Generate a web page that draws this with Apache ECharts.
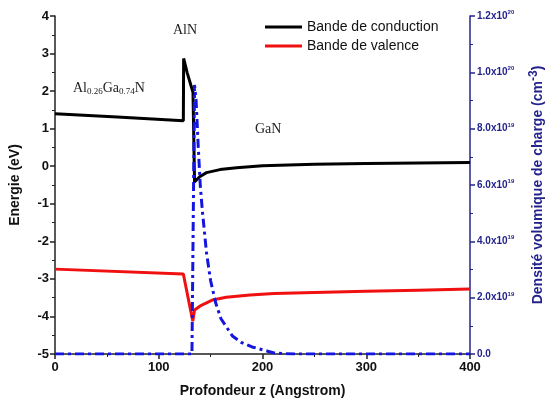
<!DOCTYPE html>
<html lang="fr">
<head>
    <meta charset="UTF-8">
    <title>Bandes d'énergie AlGaN/AlN/GaN</title>
    <style>
      html, body { margin: 0; padding: 0; background: #fff; }
    </style>
</head>
<body>
<div style="width: 550px;height: 412px;" id="bandChart"></div>
<script src="https://cdnjs.cloudflare.com/ajax/libs/echarts/6.0.0/echarts.min.js"></script>
<script type="text/javascript">
  // profondeur z (Angstrom), energie (eV)
  const conductionBand = [
    [0, 1.40], [60, 1.31], [123.7, 1.21], [124, 2.87], [127.5, 2.48],
    [133, 1.97], [134.5, -0.42], [139.4, -0.28], [146, -0.17], [159, -0.09],
    [175, -0.04], [200, 0.01], [250, 0.05], [300, 0.07], [350, 0.085], [400, 0.10]];

  const valenceBand = [
    [0, -2.74], [123.7, -2.87], [132.8, -4.13], [134.5, -3.83], [140, -3.72],
    [152, -3.56], [165, -3.49], [188, -3.43], [211, -3.39], [250, -3.36],
    [300, -3.33], [350, -3.30], [400, -3.27]];

  // densite volumique de charge (cm-3)
  const chargeDensity = [
    [0, 0], [132, 0], [133.3, 5.0e19], [134.5, 9.55e19], [136, 9.0e19],
    [138, 7.4e19], [140, 6.0e19], [142, 5.1e19], [146, 3.6e19], [150, 2.6e19],
    [155, 1.8e19], [160, 1.25e19], [171, 6.4e18], [180, 4.0e18], [190, 2.5e18],
    [197, 1.8e18], [205, 1.0e18], [211, 0.4e18], [222, 0.1e18], [232, 0], [400, 0]];

  const densityTicks = [
    ['0.0', ''], ['2.0x10', '19'], ['4.0x10', '19'], ['6.0x10', '19'],
    ['8.0x10', '19'], ['1.0x10', '20'], ['1.2x10', '20']];

  const navy = '#23238c';
  const sans = 'Liberation Sans, Arial, sans-serif';
  const serif = 'Liberation Serif, Times New Roman, serif';

  const option = {
    animation: false,
    backgroundColor: '#fff',
    grid: {left: 55, right: 80, top: 16, bottom: 58, outerBoundsMode: 'none', containLabel: false},
    legend: {
      data: ['Bande de conduction', 'Bande de valence'],
      orient: 'vertical',
      left: 260,
      top: 15,
      icon: 'rect',
      itemWidth: 37,
      itemHeight: 3,
      itemGap: 5,
      textStyle: {fontFamily: sans, fontSize: 14, color: '#111'},
    },
    xAxis: {
      type: 'value',
      min: 0, max: 400, interval: 100,
      name: 'Profondeur z (Angstrom)',
      nameLocation: 'middle',
      nameGap: 30,
      nameTextStyle: {fontFamily: sans, fontSize: 14, fontWeight: 'bold', color: '#111'},
      axisLine: {onZero: false, lineStyle: {color: '#222', width: 1.5}},
      axisTick: {inside: false, length: 5, lineStyle: {color: '#222', width: 1.5}},
      minorTick: {show: true, splitNumber: 2, length: 3, lineStyle: {color: '#222'}},
      axisLabel: {fontFamily: sans, fontSize: 13, fontWeight: 'bold', color: '#111', margin: 7},
      splitLine: {show: false},
    },
    yAxis: [
      {
        type: 'value',
        min: -5, max: 4, interval: 1,
        name: 'Energie (eV)',
        nameLocation: 'middle',
        nameGap: 33,
        nameTextStyle: {fontFamily: sans, fontSize: 14, fontWeight: 'bold', color: '#111'},
        axisLine: {show: true, onZero: false, lineStyle: {color: '#222', width: 1.5}},
        axisTick: {show: true, length: 5, lineStyle: {color: '#222', width: 1.5}},
        minorTick: {show: true, splitNumber: 2, length: 3, lineStyle: {color: '#222'}},
        axisLabel: {fontFamily: sans, fontSize: 13, fontWeight: 'bold', color: '#111', margin: 6},
        splitLine: {show: false},
      },
      {
        type: 'value',
        position: 'right',
        min: 0, max: 1.2e20, interval: 2e19,
        name: 'Densité volumique de charge (cm{sup|-3})',
        nameLocation: 'middle',
        nameGap: 58,
        nameRotate: 90,
        nameTextStyle: {
          fontFamily: sans, fontSize: 14, fontWeight: 'bold', color: navy,
          rich: {sup: {fontFamily: sans, fontSize: 12, fontWeight: 'bold', color: navy, verticalAlign: 'top', padding: [0, 0, 8, 0]}},
        },
        axisLine: {show: true, onZero: false, lineStyle: {color: navy, width: 1.5}},
        axisTick: {show: true, length: 5, lineStyle: {color: navy, width: 1.5}},
        minorTick: {show: true, splitNumber: 2, length: 3, lineStyle: {color: navy}},
        axisLabel: {
          margin: 7,
          formatter: function(value) {
            const t = densityTicks[Math.round(value / 2e19)];
            return t[1] ? t[0] + '{e|' + t[1] + '}' : t[0];
          },
          fontFamily: sans, fontSize: 10, fontWeight: 'bold', color: navy,
          rich: {e: {fontFamily: sans, fontSize: 6, fontWeight: 'bold', color: navy, padding: [0, 0, 7, 0]}},
        },
        splitLine: {show: false},
      },
    ],
    graphic: [
      {type: 'text', left: 173, top: 23, style: {text: 'AlN', font: '14px ' + serif, fill: '#222'}},
      {
        type: 'text', left: 73, top: 81,
        style: {
          text: 'Al{s|0.26}Ga{s|0.74}N',
          font: '14px ' + serif, fill: '#222',
          rich: {s: {fontFamily: serif, fontSize: 9, fill: '#222', padding: [8, 0, 0, 0]}},
        },
      },
      {type: 'text', left: 255, top: 122, style: {text: 'GaN', font: '14px ' + serif, fill: '#222'}},
    ],
    series: [
      {
        name: 'Bande de conduction', type: 'line', yAxisIndex: 0,
        data: conductionBand, symbol: 'none', z: 3,
        lineStyle: {color: '#000', width: 3}, itemStyle: {color: '#000'},
      },
      {
        name: 'Bande de valence', type: 'line', yAxisIndex: 0,
        data: valenceBand, symbol: 'none', z: 3,
        lineStyle: {color: '#f01010', width: 3}, itemStyle: {color: '#f01010'},
      },
      {
        name: 'Densité de charge', type: 'line', yAxisIndex: 1,
        data: chargeDensity, symbol: 'none', z: 4,
        lineStyle: {color: '#1515e0', width: 3, type: [9, 4, 3, 4]},
      },
    ],
  };

  let instance = echarts.init(document.getElementById('bandChart'));
  instance.setOption(option);
</script>
</body>
</html>
